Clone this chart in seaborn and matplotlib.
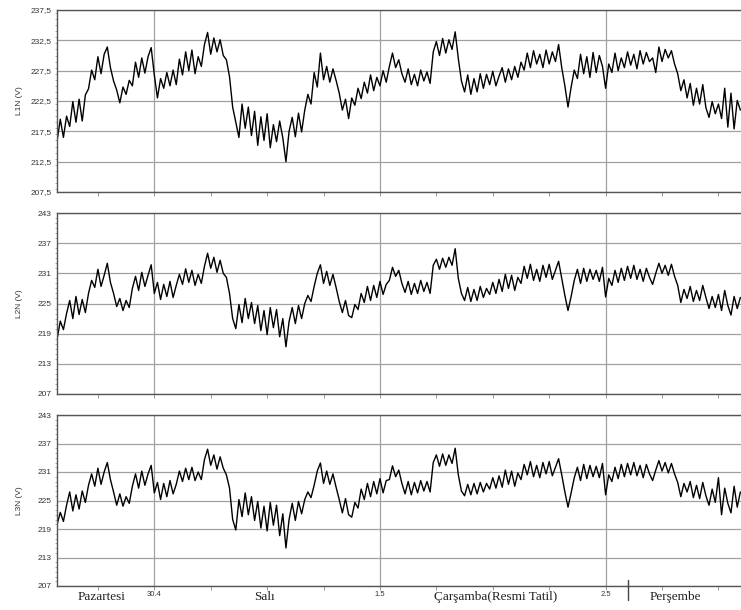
import pandas as pd
import numpy as np
import matplotlib
matplotlib.use('Agg')
import matplotlib.pyplot as plt
import matplotlib.dates as mdates
from matplotlib.ticker import MultipleLocator, FuncFormatter
from matplotlib.lines import Line2D
import seaborn as sns

# 20 minute readings, 29.4 13:40 -> 2.5 14:20 (one row per hour, 3 values each)
l1n = [216.0,
       219.5, 216.5, 220.0, 218.3, 222.4, 219.0, 222.8, 219.2, 223.5,   # 14-16
       224.5, 227.6, 226.0, 229.8, 227.0, 230.2, 231.4, 228.0, 225.8,   # 17-19
       224.3, 222.2, 224.8, 223.6, 225.9, 225.0, 228.9, 226.4, 229.6,   # 20-22
       227.1, 229.8, 231.3, 226.8, 223.0, 226.2, 224.6, 227.2, 225.0,   # 23-25
       227.6, 225.2, 229.4, 226.8, 230.6, 227.5, 230.9, 227.0, 229.8,   # 26-28
       228.2, 231.8, 233.8, 230.2, 232.9, 230.6, 232.6, 230.0, 229.3,   # 29-31
       226.5, 221.5, 219.0, 216.5, 222.0, 218.0, 221.5, 216.8, 220.8,   # 32-34
       215.2, 219.9, 216.0, 220.4, 214.8, 218.6, 215.8, 219.2, 216.4,   # 35-37
       212.5, 217.5, 219.8, 216.6, 220.5, 217.4, 221.0, 223.6, 222.0,   # 38-40
       227.2, 224.8, 230.4, 226.0, 228.2, 225.6, 227.8, 225.9, 223.8,   # 41-43
       221.0, 222.8, 219.6, 223.0, 221.8, 224.6, 222.9, 225.6, 223.8,   # 44-46
       226.8, 224.2, 226.4, 225.0, 227.5, 225.6, 228.2, 230.4, 228.0,   # 47-49
       229.3, 227.0, 225.6, 227.8, 225.2, 226.9, 225.0, 227.6, 225.8,   # 50-52
       227.3, 225.4, 230.6, 232.3, 230.0, 232.8, 230.4, 232.6, 231.0,   # 53-55
       233.9, 229.5, 225.8, 224.0, 226.8, 223.6, 226.2, 224.0, 227.0,   # 56-58
       224.6, 226.9, 225.2, 227.4, 225.0, 226.6, 228.0, 225.6, 227.8,   # 59-61
       226.0, 228.2, 226.4, 228.9, 227.6, 230.4, 228.0, 230.8, 228.6,   # 62-64
       230.2, 228.0, 230.9, 228.6, 230.6, 229.0, 231.8, 228.0, 225.0,   # 65-67
       221.5, 224.8, 227.6, 226.2, 230.2, 227.0, 229.8, 226.4, 230.5,   # 68-70
       227.2, 230.0, 228.2, 224.6, 228.6, 227.2, 230.4, 227.5, 229.6,   # 71-73
       228.0, 230.6, 228.4, 230.2, 227.8, 230.8, 228.6, 230.5, 229.0,   # 74-76
       229.6, 227.2, 231.4, 229.0, 231.0, 229.6, 230.8, 228.6, 227.0,   # 77-79
       224.2, 226.0, 223.0, 225.4, 221.8, 224.6, 222.0, 225.2, 221.4,   # 80-82
       219.8, 222.4, 220.4, 222.0, 219.6, 224.6, 218.2, 223.8, 217.9,   # 83-85
       222.6, 221.0]

l2n = [218.0,
       221.5, 219.8, 223.0, 225.6, 222.0, 226.4, 222.8, 225.8, 223.2,   # 14-16
       227.0, 229.6, 228.2, 231.8, 228.4, 230.6, 233.0, 229.2, 227.0,   # 17-19
       224.4, 226.0, 223.6, 225.6, 224.2, 228.0, 230.4, 227.6, 231.2,   # 20-22
       228.4, 230.6, 232.7, 227.0, 229.2, 225.8, 228.8, 226.4, 229.4,   # 23-25
       226.2, 228.6, 230.8, 228.8, 231.9, 229.2, 231.6, 228.6, 230.8,   # 26-28
       229.0, 232.4, 235.0, 232.0, 234.2, 231.2, 233.6, 231.0, 230.2,   # 29-31
       227.0, 222.0, 220.0, 224.8, 221.2, 226.0, 222.0, 225.2, 221.0,   # 32-34
       224.6, 219.6, 223.6, 218.8, 224.2, 220.2, 223.8, 218.4, 222.0,   # 35-37
       216.4, 221.4, 224.2, 221.0, 224.6, 222.0, 225.0, 226.6, 225.4,   # 38-40
       228.4, 231.0, 232.7, 229.0, 231.4, 228.6, 230.8, 228.2, 225.4,   # 41-43
       223.2, 225.6, 222.6, 222.2, 224.8, 223.8, 227.0, 225.2, 228.4,   # 44-46
       225.6, 228.6, 226.2, 229.4, 226.8, 228.8, 229.6, 232.2, 230.4,   # 47-49
       231.6, 229.0, 227.2, 229.4, 226.8, 229.0, 227.0, 229.6, 227.4,   # 50-52
       229.2, 227.0, 232.6, 233.8, 231.8, 234.0, 232.2, 234.2, 232.6,   # 53-55
       235.9, 230.0, 227.0, 225.6, 228.2, 225.4, 227.8, 225.6, 228.4,   # 56-58
       226.2, 228.0, 226.8, 229.2, 227.0, 229.8, 227.4, 230.8, 228.0,   # 59-61
       230.6, 227.6, 230.2, 229.0, 232.4, 230.0, 232.8, 229.6, 231.8,   # 62-64
       229.4, 232.6, 230.2, 232.8, 229.8, 231.6, 233.4, 230.0, 226.6,   # 65-67
       223.6, 226.4, 229.6, 231.8, 229.0, 232.0, 229.4, 231.8, 229.8,   # 68-70
       231.6, 229.4, 232.2, 226.3, 230.0, 228.6, 231.6, 229.2, 232.0,   # 71-73
       229.6, 232.4, 230.0, 232.6, 229.8, 231.8, 229.4, 232.0, 230.2,   # 74-76
       228.8, 231.0, 233.0, 231.0, 232.6, 230.6, 232.8, 230.4, 228.6,   # 77-79
       225.2, 227.8, 226.0, 228.4, 225.4, 227.6, 225.6, 228.6, 226.2,   # 80-82
       224.0, 226.4, 224.2, 226.8, 223.6, 227.6, 224.6, 222.7, 226.4,   # 83-85
       224.0, 226.2]

l3n = [220.0,
       222.5, 220.6, 224.0, 226.8, 222.8, 226.2, 223.2, 227.0, 224.6,   # 14-16
       228.2, 230.6, 228.0, 231.8, 228.4, 231.0, 233.0, 229.4, 226.8,   # 17-19
       224.0, 226.4, 223.8, 225.8, 224.4, 228.0, 230.6, 227.6, 231.2,   # 20-22
       228.2, 230.6, 232.4, 226.6, 228.8, 225.2, 228.6, 225.8, 229.2,   # 23-25
       226.4, 228.4, 231.2, 229.0, 231.8, 229.4, 232.0, 229.2, 231.0,   # 26-28
       229.4, 233.6, 235.8, 232.4, 234.6, 231.6, 234.2, 231.8, 230.4,   # 29-31
       227.6, 221.0, 218.8, 225.2, 221.6, 226.6, 222.0, 225.8, 220.8,   # 32-34
       224.8, 219.2, 223.8, 218.6, 224.6, 219.8, 224.0, 217.6, 222.2,   # 35-37
       215.0, 221.0, 224.4, 220.8, 224.8, 222.2, 225.2, 226.8, 225.6,   # 38-40
       228.2, 231.2, 232.9, 228.6, 231.2, 228.4, 230.6, 227.8, 225.2,   # 41-43
       222.4, 225.4, 222.0, 221.5, 224.6, 223.4, 227.4, 225.2, 228.6,   # 44-46
       225.8, 229.0, 226.4, 229.6, 226.6, 229.2, 229.4, 232.3, 230.0,   # 47-49
       231.4, 228.6, 226.4, 229.0, 226.2, 228.8, 226.6, 229.2, 227.0,   # 50-52
       229.0, 226.8, 233.0, 234.6, 232.2, 234.8, 232.4, 234.6, 232.8,   # 53-55
       236.0, 230.4, 227.0, 226.0, 228.4, 226.2, 228.6, 226.4, 228.8,   # 56-58
       226.8, 228.6, 227.4, 229.8, 227.6, 230.2, 227.8, 231.4, 228.4,   # 59-61
       231.2, 228.0, 230.8, 229.4, 232.6, 230.4, 233.2, 230.0, 232.4,   # 62-64
       229.8, 233.0, 230.6, 233.2, 230.2, 232.0, 233.8, 230.4, 226.8,   # 65-67
       223.6, 226.6, 229.8, 232.0, 229.2, 232.6, 229.6, 232.4, 230.0,   # 68-70
       232.2, 229.8, 232.8, 226.2, 230.4, 229.0, 232.0, 229.6, 232.6,   # 71-73
       230.0, 232.8, 230.4, 233.0, 230.2, 232.4, 229.8, 232.6, 230.6,   # 74-76
       229.2, 231.4, 233.4, 231.2, 233.0, 230.8, 232.8, 230.6, 228.8,   # 77-79
       225.8, 228.6, 226.8, 229.0, 225.6, 228.2, 225.4, 228.8, 226.0,   # 80-82
       224.0, 227.4, 224.6, 229.8, 222.0, 227.6, 224.4, 222.4, 228.0,   # 83-85
       223.6, 226.8]

channels = ['L1N (V)', 'L2N (V)', 'L3N (V)']
y_ranges = [(207.5, 237.5, 5), (207, 243, 6), (207, 243, 6)]
day_names = ['Pazartesi', 'Salı', 'Çarşamba(Resmi Tatil)', 'Perşembe']
day_x = [102, 264, 496, 675]

times = pd.date_range('2019-04-29 13:40', periods=len(l1n), freq='20min')
df = pd.DataFrame({'time': times, 'L1N (V)': l1n, 'L2N (V)': l2n, 'L3N (V)': l3n})

sns.set_style('white')
plt.rcParams['font.family'] = ['Liberation Sans', 'DejaVu Sans']

W, H = 741, 610
fig = plt.figure(figsize=(W / 100, H / 100), dpi=100)
boxes = [(10, 192), (213, 394), (415, 586)]
left = 57

for i, (name, (lo, hi, step), (top, bot)) in enumerate(zip(channels, y_ranges, boxes)):
    ax = fig.add_axes([left / W, 1 - bot / H, (W - left) / W, (bot - top) / H])
    sns.lineplot(data=df, x='time', y=name, ax=ax, color='black', linewidth=1.0)
    ax.set_xlim(pd.Timestamp('2019-04-29 13:39'), pd.Timestamp('2019-05-02 14:24'))
    ax.set_ylim(lo, hi)
    ax.set_yticks(np.arange(lo, hi + 0.01, step))
    ax.yaxis.set_minor_locator(MultipleLocator(1))
    if i == 0:
        ax.yaxis.set_major_formatter(FuncFormatter(lambda v, p: ('%.1f' % v).replace('.', ',')))
    else:
        ax.yaxis.set_major_formatter(FuncFormatter(lambda v, p: '%d' % round(v)))
    ax.xaxis.set_major_locator(mdates.DayLocator())
    ax.xaxis.set_minor_locator(mdates.HourLocator(byhour=[6, 12, 18]))
    ax.xaxis.set_major_formatter(mdates.DateFormatter('%-d.%-m'))
    ax.grid(True, which='major', color='#a0a0a0', linewidth=0.9)
    ax.tick_params(axis='y', which='major', length=3, width=0.7, color='#777',
                   labelsize=6, labelcolor='#333', pad=1)
    ax.tick_params(axis='y', which='minor', length=1.5, width=0.6, color='#999', left=True)
    ax.tick_params(axis='x', which='both', length=3, width=0.7, color='#999',
                   labelsize=5.5, labelcolor='#333', pad=0.5, bottom=True)
    if i < 2:
        ax.tick_params(axis='x', labelbottom=False)
    ax.set_xlabel('')
    ax.set_ylabel(name, fontsize=6, color='#333')
    ax.yaxis.set_label_coords(-34 / (W - left), 0.5)
    for s in ['top', 'left', 'bottom']:
        ax.spines[s].set_color('#555')
        ax.spines[s].set_linewidth(1.0)
    ax.spines['right'].set_visible(False)

for name, xp in zip(day_names, day_x):
    fig.text(xp / W, 1 - 597 / H, name, ha='center', va='center',
             fontsize=9.5, family=['Liberation Serif', 'DejaVu Serif'], color='#222')

fig.add_artist(Line2D([628 / W, 628 / W], [1 - 580 / H, 1 - 600 / H], color='#444', linewidth=1))

fig.savefig('out.png', dpi=100)
